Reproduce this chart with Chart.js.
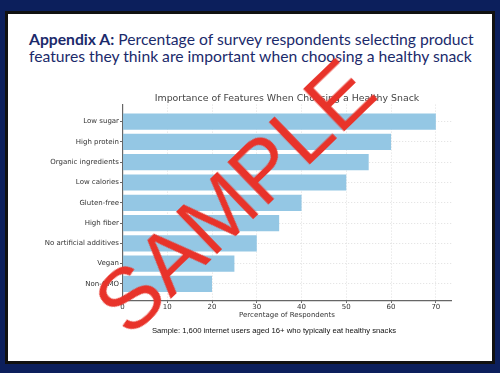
<!DOCTYPE html>
<html lang="en">
<head>
    <meta charset="UTF-8">
    <title>Appendix A</title>
    <script src="https://cdn.jsdelivr.net/npm/chart.js@4/dist/chart.umd.min.js"></script>
    <style>
        html, body {
            margin: 0;
            padding: 0;
        }
        body {
            width: 500px;
            height: 373px;
            background: #0c1f5c;
            position: relative;
            overflow: hidden;
        }
        .panel {
            position: absolute;
            left: 5px;
            top: 11px;
            width: 484px;
            height: 347px;
            background: #fff;
            border: 3px solid #111;
        }
        .heading {
            position: absolute;
            left: 29px;
            top: 31px;
            font-family: Lato, sans-serif;
            font-size: 15.7px;
            line-height: 17px;
            color: #1b2a6b;
            white-space: nowrap;
        }
        .heading b {
            font-weight: 700;
        }
        .note {
            position: absolute;
            left: 0;
            width: 548px;
            top: 326px;
            text-align: center;
            font-family: "Liberation Sans", Arial, sans-serif;
            font-size: 7.7px;
            color: #111;
        }
        #chart {
            position: absolute;
            left: 0;
            top: 0;
        }
        .stamp {
            position: absolute;
            left: 234px;
            top: 196px;
            transform: translate(-50%, -50%) rotate(-44deg);
            font-family: "Liberation Sans", Arial, sans-serif;
            font-size: 86px;
            line-height: 1;
            color: #e8332a;
            white-space: nowrap;
            pointer-events: none;
        }
    </style>
</head>
<body>
    <div class="panel"></div>
    <div class="heading"><b>Appendix A:</b> Percentage of survey respondents selecting product<br>features they think are important when choosing a healthy snack</div>
    <canvas id="chart" width="500" height="373"></canvas>
    <div class="note">Sample: 1,600 internet users aged 16+ who typically eat healthy snacks</div>
    <div class="stamp">SAMPLE</div>

    <script>
        const features = ['Low sugar', 'High protein', 'Organic ingredients', 'Low calories', 'Gluten-free',
            'High fiber', 'No artificial additives', 'Vegan', 'Non-GMO'];
        const percentages = [70, 60, 55, 50, 40, 35, 30, 25, 20];
        const xTicks = [0, 10, 20, 30, 40, 50, 60, 70];

        const gridColor = 'rgba(0,0,0,0.13)';
        const textColor = '#333';

        const ctx = document.getElementById('chart').getContext('2d');
        new Chart(ctx, {
            type: 'bar',
            data: {
                datasets: [{
                    data: percentages.map((v, i) => ({x: v, y: i})),
                    backgroundColor: '#94c7e4',
                    borderWidth: 0,
                    categoryPercentage: 1,
                    barPercentage: 0.8
                }]
            },
            options: {
                indexAxis: 'y',
                responsive: false,
                animation: false,
                devicePixelRatio: 1,
                layout: {
                    padding: {left: 0, right: 48.5, top: 92.6, bottom: 53.8}
                },
                plugins: {
                    legend: {display: false},
                    tooltip: {enabled: false},
                    title: {
                        display: true,
                        text: 'Importance of Features When Choosing a Healthy Snack',
                        fullSize: false,
                        color: '#444',
                        font: {family: 'DejaVu Sans', size: 9.4, weight: 'normal'},
                        padding: {top: 0, bottom: 0.7}
                    }
                },
                scales: {
                    x: {
                        type: 'linear',
                        min: 0,
                        max: 73.5,
                        afterBuildTicks: scale => {
                            scale.ticks = xTicks.map(v => ({value: v}));
                        },
                        afterFit: scale => {
                            scale.height = 18.2;
                        },
                        ticks: {
                            color: textColor,
                            font: {family: 'DejaVu Sans', size: 7},
                            padding: 0,
                            maxRotation: 0
                        },
                        grid: {
                            color: gridColor,
                            tickColor: '#666',
                            tickLength: 2
                        },
                        border: {color: '#666', width: 1.2, dash: [1, 2]},
                        title: {
                            display: true,
                            text: 'Percentage of Respondents',
                            color: textColor,
                            font: {family: 'DejaVu Sans', size: 7},
                            padding: 0
                        }
                    },
                    y: {
                        type: 'linear',
                        reverse: true,
                        offset: false,
                        min: -0.84,
                        max: 8.84,
                        afterBuildTicks: scale => {
                            scale.ticks = features.map((f, i) => ({value: i}));
                        },
                        afterFit: scale => {
                            scale.width = 122.5;
                        },
                        ticks: {
                            color: textColor,
                            font: {family: 'DejaVu Sans', size: 7},
                            padding: 1,
                            callback: value => features[value]
                        },
                        grid: {
                            offset: false,
                            color: gridColor,
                            tickColor: '#666',
                            tickLength: 2.5
                        },
                        border: {color: '#666', width: 1.2, dash: [1, 2]}
                    }
                }
            }
        });
    </script>
</body>
</html>
